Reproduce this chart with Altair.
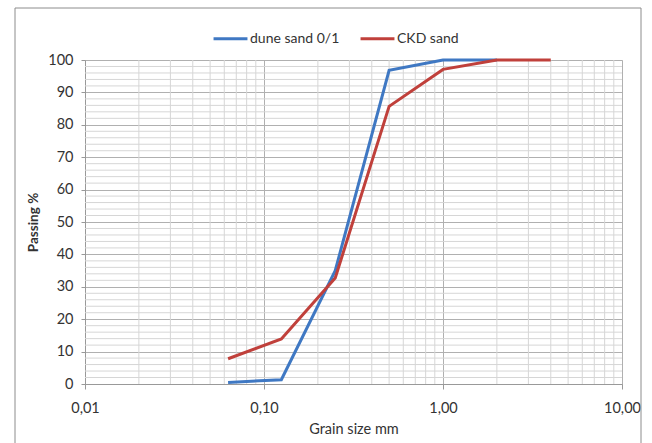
import altair as alt
import pandas as pd

# Data
dune_sizes = [0.063, 0.125, 0.25, 0.5, 1.0, 2.0]
dune_pass = [0.5, 1.3, 35.0, 96.8, 100.0, 100.0]
ckd_sizes = [0.063, 0.125, 0.25, 0.5, 1.0, 2.0, 4.0]
ckd_pass = [7.8, 13.9, 32.7, 85.7, 97.1, 100.0, 100.0]

series_names = ["dune sand 0/1", "CKD sand"]
series_colors = ["#3f78c3", "#c0403b"]

major_x = [0.01, 0.1, 1, 10]
minor_x = [m * d for d in [0.01, 0.1, 1] for m in range(2, 10)]
major_y = list(range(0, 101, 10))
minor_y = [v for v in range(0, 101, 2) if v % 10 != 0]

rows = []
for s, p in zip(dune_sizes, dune_pass):
    rows.append({"size": s, "pass": p, "series": series_names[0]})
for s, p in zip(ckd_sizes, ckd_pass):
    rows.append({"size": s, "pass": p, "series": series_names[1]})
df = pd.DataFrame(rows)

FONT = "Lato"
W, H = 537, 324

xscale = alt.Scale(type="log", domain=[0.01, 10], nice=False)
yscale = alt.Scale(domain=[0, 100], nice=False)

xaxis = alt.Axis(values=major_x, grid=True, gridColor="#b0b0b0",
                 labelExpr="replace(format(datum.value, '.2f'), '.', ',')",
                 title="Grain size mm", titleFontWeight="normal",
                 titleFontSize=14.5, titlePadding=8, labelFontSize=14.5,
                 labelPadding=12, tickSize=5, tickColor="#999999",
                 domainColor="#999999", labelColor="#333333",
                 titleColor="#333333", labelFlush=False)
yaxis = alt.Axis(values=major_y, grid=True, gridColor="#b0b0b0",
                 title="Passing %", titleFontWeight="bold",
                 titleFontSize=13.5, titlePadding=7, labelFontSize=14.5,
                 labelPadding=8, tickSize=4, tickColor="#999999",
                 domainColor="#999999", labelColor="#333333",
                 titleColor="#333333")

vgrid = alt.Chart(pd.DataFrame({"size": minor_x})).mark_rule(
    color="#d6d6d6", strokeWidth=1).encode(
    x=alt.X("size:Q", scale=xscale, axis=xaxis),
    y=alt.value(0), y2=alt.value(H))

hgrid = alt.Chart(pd.DataFrame({"pass": minor_y})).mark_rule(
    color="#d6d6d6", strokeWidth=1).encode(
    y=alt.Y("pass:Q", scale=yscale, axis=yaxis),
    x=alt.value(0), x2=alt.value(W))

lines = alt.Chart(df).mark_line(strokeWidth=3).encode(
    x=alt.X("size:Q", scale=xscale, axis=xaxis),
    y=alt.Y("pass:Q", scale=yscale, axis=yaxis),
    color=alt.Color("series:N",
                    scale=alt.Scale(domain=series_names, range=series_colors),
                    legend=alt.Legend(title=None, orient="none", legendX=127, legendY=-40,
                                      direction="horizontal", symbolType="stroke",
                                      symbolStrokeWidth=3, symbolSize=1150,
                                      labelFontSize=14, labelColor="#333333",
                                      columnPadding=14, labelOffset=1)),
    detail="series:N",
    order="size:Q",
)

frame = alt.Chart(pd.DataFrame({"k": [0]})).mark_rect(
    fill=None, stroke="#8c8c8c", strokeWidth=1).encode(
    x=alt.value(-70), x2=alt.value(556), y=alt.value(-52), y2=alt.value(390))

chart = alt.layer(vgrid, hgrid, lines, frame).properties(
    width=W, height=H,
    autosize=alt.AutoSizeParams(type="none"),
    padding={"left": 85, "top": 60, "right": 30, "bottom": 59},
).configure_view(stroke=None).configure(font=FONT, background="white")

chart.save("out.html", embed_options={"renderer": "svg", "actions": False})
